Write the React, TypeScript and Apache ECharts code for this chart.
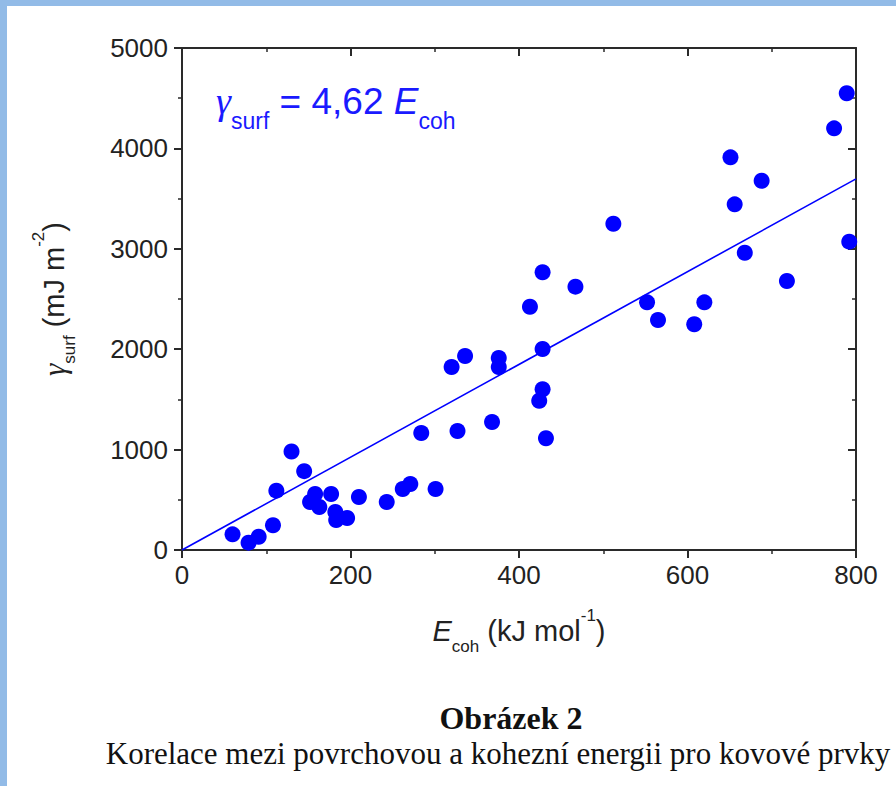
import React, { useEffect, useRef } from "react";
import * as echarts from "echarts";

// E_coh (kJ/mol) and gamma_surf (mJ/m^2) for metallic elements
const cohesiveEnergy = [60, 79, 91, 108, 112, 130, 145, 152, 158, 163, 177, 182, 183, 196, 210, 243, 262, 271, 284, 301, 320, 327, 336, 368, 376, 376, 413, 424, 428, 428, 428, 432, 467, 512, 552, 565, 608, 620, 651, 656, 668, 688, 718, 774, 789, 792];
const surfaceEnergy = [156, 73, 132, 246, 591, 981, 785, 478, 558, 428, 558, 378, 299, 319, 528, 478, 608, 657, 1165, 608, 1823, 1185, 1932, 1275, 1912, 1823, 2423, 1487, 2766, 2002, 1601, 1113, 2623, 3250, 2467, 2291, 2248, 2467, 3911, 3443, 2961, 3678, 2679, 4200, 4549, 3071];

// fit line gamma = 4.62 * E
const fitX = [0, 800];
const fitY = [0, 3696];

const xTicks = { min: 0, max: 800, interval: 200 };
const yTicks = { min: 0, max: 5000, interval: 1000 };

const SANS = "'Liberation Sans', Arial, Helvetica, sans-serif";
const SERIF = "'Liberation Serif', 'Times New Roman', serif";
const AXIS_COLOR = "#2a2a2a";
const BLUE = "#0000ff";
const TEXT_BLUE = "#1a1aff";

export default function App() {
  const ref = useRef<HTMLDivElement>(null);

  useEffect(() => {
    if (!ref.current) return;
    const chart = echarts.init(ref.current, undefined, { renderer: "svg" });

    const points = cohesiveEnergy.map((x, i) => [x, surfaceEnergy[i]]);
    const fit = fitX.map((x, i) => [x, fitY[i]]);

    const axisCommon = {
      type: "value" as const,
      splitLine: { show: false },
      axisLine: { show: true, onZero: false, lineStyle: { color: AXIS_COLOR, width: 2 } },
      minorTick: { show: true, splitNumber: 2, length: 4, lineStyle: { color: AXIS_COLOR, width: 1.5 } },
    };

    const nameRich = {
      t: { fontFamily: SANS, fontSize: 29, color: "#222", lineHeight: 48 },
      i: { fontFamily: SANS, fontSize: 29, fontStyle: "italic", color: "#222", lineHeight: 48 },
      g: { fontFamily: SERIF, fontSize: 31, fontStyle: "italic", color: "#222", lineHeight: 48 },
      sub: { fontFamily: SANS, fontSize: 17, color: "#222", lineHeight: 17, verticalAlign: "bottom" },
      sup: { fontFamily: SANS, fontSize: 17, color: "#222", lineHeight: 28, verticalAlign: "top" },
    };

    const plain = (v: number) => String(v);

    chart.setOption({
      animation: false,
      backgroundColor: "#ffffff",
      grid: { left: 182, right: 40, top: 48, bottom: 236, containLabel: false },
      xAxis: [
        {
          ...axisCommon,
          position: "bottom",
          min: xTicks.min,
          max: xTicks.max,
          interval: xTicks.interval,
          axisTick: { show: true, inside: false, length: 8, lineStyle: { color: AXIS_COLOR, width: 2 } },
          axisLabel: { show: true, fontFamily: SANS, fontSize: 26, color: "#222", margin: 12, formatter: plain },
          name: "{i|E}{sub|coh}{t| (kJ mol}{sup|-1}{t|)}",
          nameLocation: "middle",
          nameGap: 57,
          nameTextStyle: { rich: nameRich, verticalAlign: "top" },
        },
        {
          ...axisCommon,
          position: "top",
          min: xTicks.min,
          max: xTicks.max,
          interval: xTicks.interval,
          axisTick: { show: true, inside: true, length: 8, lineStyle: { color: AXIS_COLOR, width: 2 } },
          axisLabel: { show: false },
        },
      ],
      yAxis: [
        {
          ...axisCommon,
          position: "left",
          min: yTicks.min,
          max: yTicks.max,
          interval: yTicks.interval,
          axisTick: { show: true, inside: false, length: 8, lineStyle: { color: AXIS_COLOR, width: 2 } },
          axisLabel: { show: true, fontFamily: SANS, fontSize: 26, color: "#222", margin: 14, formatter: plain },
          name: "{g|γ}{sub|surf}{t| (mJ m}{sup|-2}{t|)}",
          nameLocation: "middle",
          nameRotate: 90,
          nameGap: 104,
          nameTextStyle: { rich: nameRich },
        },
        {
          ...axisCommon,
          position: "right",
          min: yTicks.min,
          max: yTicks.max,
          interval: yTicks.interval,
          axisTick: { show: true, inside: true, length: 8, lineStyle: { color: AXIS_COLOR, width: 2 } },
          axisLabel: { show: false },
        },
      ],
      series: [
        {
          type: "line",
          data: fit,
          xAxisIndex: 0,
          yAxisIndex: 0,
          showSymbol: false,
          symbol: "none",
          lineStyle: { color: BLUE, width: 1.6 },
          z: 2,
        },
        {
          type: "scatter",
          data: points,
          xAxisIndex: 0,
          yAxisIndex: 0,
          symbol: "circle",
          symbolSize: 16,
          itemStyle: { color: BLUE, opacity: 1 },
          clip: false,
          z: 3,
        },
      ],
      graphic: [
        {
          type: "rect",
          left: 0,
          top: 0,
          shape: { width: 7, height: 786 },
          style: { fill: "#92bbe7" },
          silent: true,
          z: 0,
        },
        {
          type: "rect",
          left: 0,
          top: 0,
          shape: { width: 896, height: 6 },
          style: { fill: "#92bbe7" },
          silent: true,
          z: 0,
        },
        {
          type: "text",
          x: 216,
          y: 70,
          style: {
            text: "{g|γ}{sub|surf}{t| = 4,62 }{i|E}{sub|coh}",
            fill: TEXT_BLUE,
            rich: {
              t: { fontFamily: SANS, fontSize: 37, fill: TEXT_BLUE, lineHeight: 62 },
              i: { fontFamily: SANS, fontSize: 37, fontStyle: "italic", fill: TEXT_BLUE, lineHeight: 62 },
              g: { fontFamily: SERIF, fontSize: 38, fontStyle: "italic", fill: TEXT_BLUE, lineHeight: 62 },
              sub: { fontFamily: SANS, fontSize: 23, fill: TEXT_BLUE, lineHeight: 23, verticalAlign: "bottom" },
            },
          },
          z: 10,
        },
        {
          type: "text",
          x: 511,
          y: 718,
          style: {
            text: "Obrázek 2",
            fontFamily: SERIF,
            fontSize: 32,
            fontWeight: "bold",
            fill: "#111",
            align: "center",
            verticalAlign: "middle",
          },
          z: 10,
        },
        {
          type: "text",
          x: 498,
          y: 753,
          style: {
            text: "Korelace mezi povrchovou a kohezní energii pro kovové prvky",
            fontFamily: SERIF,
            fontSize: 31,
            fill: "#111",
            align: "center",
            verticalAlign: "middle",
          },
          z: 10,
        },
      ],
    });

    return () => chart.dispose();
  }, []);

  return (
    <div style={{ position: "absolute", left: 0, top: 0, width: 896, height: 786, background: "#fff" }}>
      <div ref={ref} style={{ width: 896, height: 786 }} />
    </div>
  );
}
